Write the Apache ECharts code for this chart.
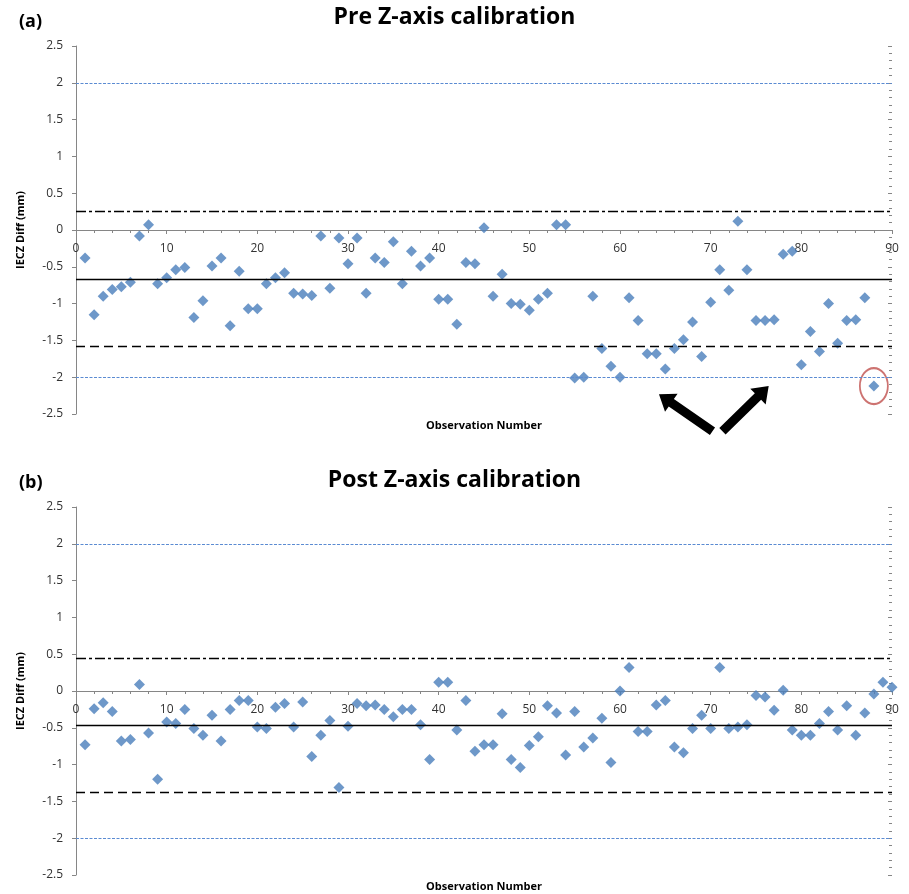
<!DOCTYPE html>
<html>
<head>
<meta charset="utf-8">
<script src="https://cdn.jsdelivr.net/npm/echarts@6/dist/echarts.min.js"></script>
<style>
html, body { margin: 0; padding: 0; background: #fff; }
#chart { width: 909px; height: 894px; }
</style>
</head>
<body>
<div id="chart"></div>
<script>
// IECZ difference per observation (mm), before and after Z-axis calibration
var preValues = [
    -0.38, -1.15, -0.90, -0.81, -0.77, -0.71, -0.08, 0.07, -0.73, -0.65,
    -0.54, -0.51, -1.19, -0.96, -0.49, -0.38, -1.30, -0.56, -1.07, -1.07,
    -0.73, -0.65, -0.58, -0.86, -0.87, -0.89, -0.08, -0.79, -0.11, -0.46,
    -0.11, -0.86, -0.38, -0.44, -0.16, -0.73, -0.29, -0.49, -0.38, -0.94,
    -0.94, -1.28, -0.44, -0.46, 0.03, -0.90, -0.60, -1.00, -1.01, -1.09,
    -0.94, -0.86, 0.07, 0.07, -2.01, -2.00, -0.90, -1.61, -1.85, -2.00,
    -0.92, -1.23, -1.68, -1.68, -1.89, -1.61, -1.49, -1.25, -1.72, -0.98,
    -0.54, -0.82, 0.12, -0.54, -1.23, -1.23, -1.22, -0.33, -0.29, -1.83,
    -1.38, -1.65, -1.00, -1.54, -1.23, -1.22, -0.92, -2.12
];
var postValues = [
    -0.73, -0.24, -0.16, -0.28, -0.68, -0.66, 0.09, -0.57, -1.20, -0.42,
    -0.44, -0.25, -0.51, -0.60, -0.33, -0.68, -0.25, -0.13, -0.13, -0.49,
    -0.51, -0.22, -0.17, -0.49, -0.15, -0.89, -0.60, -0.40, -1.31, -0.48,
    -0.17, -0.20, -0.19, -0.25, -0.35, -0.25, -0.25, -0.46, -0.93, 0.12,
    0.12, -0.53, -0.13, -0.82, -0.73, -0.73, -0.31, -0.93, -1.04, -0.74,
    -0.62, -0.20, -0.30, -0.87, -0.28, -0.76, -0.64, -0.37, -0.97, 0.00,
    0.32, -0.55, -0.55, -0.19, -0.13, -0.76, -0.84, -0.51, -0.33, -0.51,
    0.32, -0.51, -0.49, -0.46, -0.06, -0.08, -0.26, 0.01, -0.53, -0.60,
    -0.60, -0.44, -0.28, -0.53, -0.20, -0.60, -0.30, -0.04, 0.12, 0.05
];
// control lines: [upper, mean, lower]
var preLimits = [0.255, -0.665, -1.585];
var postLimits = [0.45, -0.465, -1.38];
var toleranceLines = [2, -2];
var flaggedPre = [88];

var FONT = '"Open Sans", "Noto Sans", sans-serif';
var markerColor = '#4a7ebb';
var axisGrey = '#868686';

function toPoints(values) {
    return values.map(function (v, i) { return [i + 1, v]; });
}

function limitLines(limits) {
    var data = toleranceLines.map(function (v) {
        return { yAxis: v, lineStyle: { color: '#5b8bd2', width: 1, type: [3, 1.5] } };
    });
    data.push({ yAxis: limits[0], lineStyle: { color: '#000', width: 1.3, type: [10, 3, 3, 3] } });
    data.push({ yAxis: limits[1], lineStyle: { color: '#000', width: 1.3, type: 'solid' } });
    data.push({ yAxis: limits[2], lineStyle: { color: '#000', width: 1.3, type: [9, 5] } });
    return {
        silent: true,
        symbol: ['none', 'none'],
        label: { show: false },
        emphasis: { disabled: true },
        data: data
    };
}

var gridTops = [46, 507];
var gridHeight = 368;

// main x axis sits on y = 0 (the middle of the symmetric y range)
function xAxis(idx) {
    return {
        type: 'value', gridIndex: idx, min: 0, max: 90, interval: 10,
        offset: -gridHeight / 2,
        name: 'Observation Number', nameLocation: 'middle', nameGap: 190,
        nameTextStyle: { fontFamily: FONT, fontWeight: 'bold', fontSize: 11, color: '#000' },
        axisLine: { onZero: false, lineStyle: { color: axisGrey } },
        axisTick: { show: true, length: 4, lineStyle: { color: axisGrey } },
        minorTick: { show: false },
        axisLabel: { fontFamily: FONT, fontSize: 12, color: '#333', margin: 13 },
        splitLine: { show: false }
    };
}
// overlay axis for the inward ticks
function xTickAxis(idx) {
    return {
        type: 'value', gridIndex: idx, min: 0, max: 90, interval: 10,
        offset: -gridHeight / 2,
        axisLine: { show: false, onZero: false },
        axisTick: { show: true, inside: true, length: 3, lineStyle: { color: axisGrey } },
        minorTick: { show: true, splitNumber: 5, length: 3, lineStyle: { color: axisGrey } },
        axisLabel: { show: false },
        splitLine: { show: false }
    };
}

function yAxis(idx) {
    return {
        type: 'value', gridIndex: idx, min: -2.5, max: 2.5, interval: 0.5,
        name: 'IECZ Diff (mm)', nameLocation: 'middle', nameGap: 50,
        nameTextStyle: { fontFamily: FONT, fontWeight: 'bold', fontSize: 11, color: '#000' },
        axisLine: { show: true, onZero: false, lineStyle: { color: axisGrey } },
        axisTick: { show: true, length: 4, lineStyle: { color: axisGrey } },
        minorTick: { show: false },
        axisLabel: { fontFamily: FONT, fontSize: 12, color: '#333', margin: 13 },
        splitLine: { show: false }
    };
}
function yTickAxis(idx) {
    return {
        type: 'value', gridIndex: idx, min: -2.5, max: 2.5, interval: 0.5,
        axisLine: { show: false, onZero: false },
        axisTick: { show: true, inside: true, length: 4, lineStyle: { color: axisGrey } },
        minorTick: { show: true, splitNumber: 5, length: 3, lineStyle: { color: axisGrey } },
        axisLabel: { show: false },
        splitLine: { show: false }
    };
}

var myChart = echarts.init(document.getElementById('chart'));

var option = {
    animation: false,
    backgroundColor: '#fff',
    title: [
        { text: '(a)', left: 14, top: 8, textStyle: { fontFamily: FONT, fontSize: 18, fontWeight: 'bold', color: '#000' } },
        { text: 'Pre Z-axis calibration', left: 'center', top: 1, textStyle: { fontFamily: FONT, fontSize: 23, fontWeight: 'bold', color: '#000' } },
        { text: '(b)', left: 14, top: 469, textStyle: { fontFamily: FONT, fontSize: 18, fontWeight: 'bold', color: '#000' } },
        { text: 'Post Z-axis calibration', left: 'center', top: 464, textStyle: { fontFamily: FONT, fontSize: 23, fontWeight: 'bold', color: '#000' } }
    ],
    grid: gridTops.map(function (t) {
        return { left: 76, right: 17, top: t, height: gridHeight, outerBoundsMode: 'none', containLabel: false };
    }),
    xAxis: [xAxis(0), xAxis(1), xTickAxis(0), xTickAxis(1)],
    yAxis: [yAxis(0), yAxis(1), yTickAxis(0), yTickAxis(1)],
    series: [
        {
            type: 'scatter', xAxisIndex: 0, yAxisIndex: 0,
            symbol: 'diamond', symbolSize: 11,
            itemStyle: { color: markerColor },
            data: toPoints(preValues),
            markLine: limitLines(preLimits),
            z: 3
        },
        {
            // red ring round the flagged observation
            type: 'scatter', xAxisIndex: 0, yAxisIndex: 0,
            symbol: 'circle', symbolSize: [28, 36], silent: true,
            itemStyle: { color: 'rgba(0,0,0,0)', borderColor: '#c0504d', borderWidth: 2 },
            data: flaggedPre.map(function (n) { return [n, preValues[n - 1]]; }),
            z: 2
        },
        {
            type: 'scatter', xAxisIndex: 1, yAxisIndex: 1,
            symbol: 'diamond', symbolSize: 11,
            itemStyle: { color: markerColor },
            data: toPoints(postValues),
            markLine: limitLines(postLimits),
            z: 3
        }
    ]
};
myChart.setOption(option);

// arrows under the top chart, given in data coordinates [from, to]
var arrows = [
    [[70.2, -2.735], [64.3, -2.23]],
    [[71.3, -2.735], [76.4, -2.12]]
];

function arrowShape(a, b) {
    var dx = b[0] - a[0], dy = b[1] - a[1];
    var len = Math.sqrt(dx * dx + dy * dy);
    var ux = dx / len, uy = dy / len;
    var nx = -uy, ny = ux;
    var w = 4.5, hw = 11, hl = 15;
    var sx = b[0] - ux * hl, sy = b[1] - uy * hl;
    return [
        [a[0] + nx * w, a[1] + ny * w],
        [sx + nx * w, sy + ny * w],
        [sx + nx * hw, sy + ny * hw],
        [b[0], b[1]],
        [sx - nx * hw, sy - ny * hw],
        [sx - nx * w, sy - ny * w],
        [a[0] - nx * w, a[1] - ny * w]
    ];
}

var graphics = arrows.map(function (ar) {
    var p0 = myChart.convertToPixel({ gridIndex: 0 }, ar[0]);
    var p1 = myChart.convertToPixel({ gridIndex: 0 }, ar[1]);
    return {
        type: 'polygon', silent: true, z: 10,
        shape: { points: arrowShape(p0, p1) },
        style: { fill: '#000' }
    };
});
myChart.setOption({ graphic: graphics });
</script>
</body>
</html>
